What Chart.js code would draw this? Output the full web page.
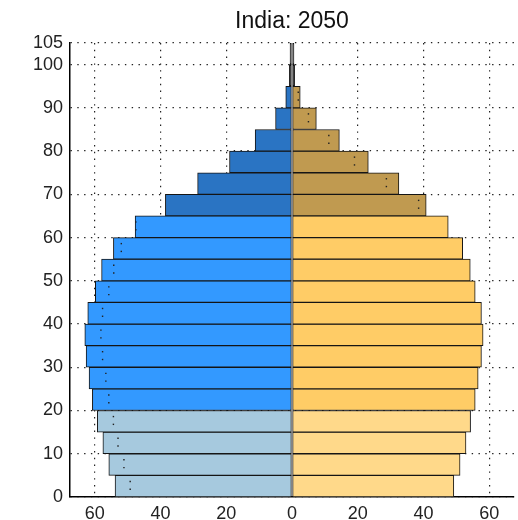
<!DOCTYPE html>
<html lang="en">
<head>
  <meta charset="UTF-8">
  <title>India: 2050</title>
  <script src="https://cdn.jsdelivr.net/npm/chart.js"></script>
  <style>
    html, body { margin: 0; padding: 0; background: #fff; overflow: hidden; }
    #wrap { width: 518px; height: 520px; }
  </style>
</head>
<body>
  <div id="wrap"><canvas id="pyramid" width="518" height="520"></canvas></div>

  <script>
    // age group starts (5-year groups, last one is 100+)
    const ageStarts = [0, 5, 10, 15, 20, 25, 30, 35, 40, 45, 50, 55, 60, 65, 70, 75, 80, 85, 90, 95, 100];
    // population in millions
    const male   = [53.8, 55.7, 57.5, 59.2, 60.7, 61.7, 62.6, 63.0, 62.1, 59.8, 57.9, 54.3, 47.7, 38.5, 28.7, 19.0, 11.2, 5.0, 1.9, 0.8, 0.6];
    const female = [49.2, 51.1, 52.9, 54.3, 55.7, 56.6, 57.6, 58.1, 57.6, 55.7, 54.2, 51.9, 47.5, 40.8, 32.5, 23.2, 14.4, 7.4, 2.5, 0.8, 0.6];
    const xTicks = [-60, -40, -20, 0, 20, 40, 60];
    const yTicks = [0, 10, 20, 30, 40, 50, 60, 70, 80, 90, 100, 105];

    const maleColors = { young: '#a6c9de', work: '#3399ff', old: '#2a74c3' };
    const femaleColors = { young: '#ffd98a', work: '#ffcc66', old: '#c09a50' };

    function band(age, pal) {
      if (age < 20) return pal.young;
      if (age < 65) return pal.work;
      return pal.old;
    }

    // very thin bars at the top end up as plain black strokes
    function fill(age, i, pal, vals) {
      return vals[i] < 1 ? '#111' : band(age, pal);
    }

    // dotted marks: the other sex's value, shown inside the bigger bar
    const dotOffsets = [1.8, 3.6];
    const maleDots = [];
    const femaleDots = [];
    ageStarts.forEach((a, i) => {
      if (female[i] < male[i]) dotOffsets.forEach(o => maleDots.push({ x: -female[i], y: a + o }));
      if (male[i] < female[i]) dotOffsets.forEach(o => femaleDots.push({ x: male[i], y: a + o }));
    });

    const gridStyle = {
      color: '#222',
      lineWidth: 1.2,
      drawTicks: false,
      offset: false
    };

    const barCommon = {
      type: 'bar',
      indexAxis: 'y',
      grouped: false,
      barPercentage: 1,
      categoryPercentage: 1,
      borderColor: '#151515',
      borderWidth: 1,
      borderSkipped: false,
      order: 1
    };

    const dotCommon = {
      type: 'scatter',
      pointStyle: 'rect',
      pointRadius: 1,
      pointBorderWidth: 0,
      pointBackgroundColor: '#222',
      order: 0
    };

    new Chart(document.getElementById('pyramid'), {
      type: 'bar',
      data: {
        datasets: [
          Object.assign({ label: 'Male dots', data: maleDots }, dotCommon),
          Object.assign({ label: 'Female dots', data: femaleDots }, dotCommon),
          Object.assign({
            label: 'Male',
            data: ageStarts.map((a, i) => ({ x: -male[i], y: a + 2.5 })),
            backgroundColor: ageStarts.map((a, i) => fill(a, i, maleColors, male))
          }, barCommon),
          Object.assign({
            label: 'Female',
            data: ageStarts.map((a, i) => ({ x: female[i], y: a + 2.5 })),
            backgroundColor: ageStarts.map((a, i) => fill(a, i, femaleColors, female))
          }, barCommon)
        ]
      },
      options: {
        responsive: false,
        animation: false,
        layout: { padding: { left: 0, right: 4, top: 0, bottom: 0 } },
        scales: {
          x: {
            type: 'linear',
            offset: false,
            min: -67.5,
            max: 67.5,
            afterBuildTicks: s => { s.ticks = xTicks.map(v => ({ value: v })); },
            afterFit: s => { s.height = 23; },
            ticks: {
              callback: v => Math.abs(v),
              font: { family: 'Liberation Sans, Arial', size: 18 },
              color: '#222',
              padding: 6,
              maxRotation: 0
            },
            grid: Object.assign({}, gridStyle, {
              // the centre line is the bars' own edge, not a dotted grid line
              color: c => (c.tick && c.tick.value === 0 ? 'rgba(0,0,0,0)' : '#222')
            }),
            border: { display: true, color: '#000', width: 1.5, dash: [1.4, 5.4] }
          },
          y: {
            type: 'linear',
            offset: false,
            min: 0,
            max: 105,
            afterBuildTicks: s => { s.ticks = yTicks.map(v => ({ value: v })); },
            afterFit: s => { s.width = 70; },
            ticks: {
              font: { family: 'Liberation Sans, Arial', size: 18 },
              color: '#222',
              padding: 7
            },
            grid: gridStyle,
            border: { display: true, color: '#000', width: 1.5, dash: [1.4, 5.4] }
          }
        },
        plugins: {
          legend: { display: false },
          tooltip: { enabled: false },
          title: {
            display: true,
            text: 'India: 2050',
            fullSize: false,
            color: '#111',
            font: { family: 'Liberation Sans, Arial', size: 23, weight: 'normal' },
            padding: { top: 8, bottom: 7.4 }
          }
        }
      }
    });
  </script>
</body>
</html>
